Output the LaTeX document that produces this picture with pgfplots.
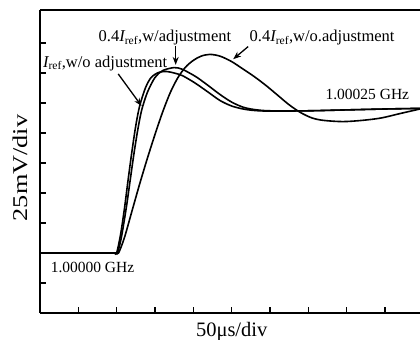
\documentclass[border=0pt]{standalone}
\usepackage{fontspec}
\setmainfont{Liberation Serif}
\usepackage{pgfplots}
\pgfplotsset{compat=1.18}
\usetikzlibrary{arrows.meta,calc}
\begin{document}
\begin{tikzpicture}
\begin{axis}[
  scale only axis, width=380pt, height=303pt,
  xmin=0, xmax=9.914, ymin=0, ymax=10.1,
  axis x line*=box, axis y line*=left,
  tick align=inside, xtick pos=left, ytick pos=left,
  xtick={1,2,3,4,5,6,7,8,9}, ytick={1,2,3,4,5,6,7,8,9},
  xticklabels={}, yticklabels={},
  major tick length=6pt,
  every tick/.style={black, line width=1.3pt},
  axis line style={line width=1.6pt},
]
% baseline
\addplot[black, line width=2pt] coordinates {(0,2) (2.05,2)};
% I_ref, w/o adjustment
\addplot[black, line width=1.6pt, smooth, tension=0.5] coordinates {
(1.95,2) (2.0,2) (2.1,2.6) (2.2,3.45) (2.3,4.45) (2.4,5.4) (2.5,6.25) (2.6,6.9) (2.75,7.5) (2.9,7.85) (3.1,8.02) (3.3,8.05) (3.5,8.0) (3.7,7.92) (3.9,7.78) (4.1,7.62) (4.4,7.35) (4.7,7.08) (5.0,6.9) (5.3,6.8) (5.6,6.75) (6.0,6.73) (7.0,6.74) (8.0,6.77) (9.0,6.8) (9.914,6.82)};
% 0.4 I_ref, w/ adjustment
\addplot[black, line width=1.6pt, smooth, tension=0.5] coordinates {
(1.97,2) (2.02,2) (2.12,2.5) (2.25,3.5) (2.35,4.4) (2.45,5.3) (2.55,6.1) (2.65,6.75) (2.8,7.35) (3.0,7.85) (3.2,8.08) (3.5,8.18) (3.7,8.13) (3.9,8.0) (4.1,7.85) (4.4,7.57) (4.7,7.28) (5.0,7.03) (5.3,6.86) (5.6,6.78) (6.0,6.74) (7.0,6.74) (8.0,6.77) (9.0,6.8) (9.914,6.82)};
% 0.4 I_ref, w/o adjustment
\addplot[black, line width=1.6pt, smooth, tension=0.5] coordinates {
(2.0,2) (2.05,2) (2.2,2.5) (2.4,3.4) (2.6,4.3) (2.8,5.15) (3.0,5.95) (3.2,6.7) (3.4,7.35) (3.6,7.85) (3.8,8.2) (4.0,8.42) (4.2,8.56) (4.43,8.62) (4.7,8.56) (5.0,8.38) (5.3,8.13) (5.6,7.87) (5.9,7.58) (6.2,7.26) (6.5,6.94) (6.8,6.68) (7.1,6.5) (7.4,6.42) (7.9,6.38) (8.4,6.42) (8.9,6.5) (9.4,6.65) (9.914,6.8)};

\node[font=\fontsize{16.5}{18}\selectfont] at (axis cs:3.26,9.17) {0.4{\itshape I}\textsubscript{ref},w/adjustment};
\node[font=\fontsize{16.5}{18}\selectfont] at (axis cs:7.36,9.17) {0.4{\itshape I}\textsubscript{ref},w/o.adjustment};
\node[font=\fontsize{16.5}{18}\selectfont] at (axis cs:1.70,8.33) {{\itshape I}\textsubscript{ref},w/o adjustment};
\node[font=\fontsize{15.5}{18}\selectfont] at (axis cs:8.54,7.27) {1.00025 GHz};
\node[font=\fontsize{15.5}{18}\selectfont] at (axis cs:1.37,1.53) {1.00000 GHz};
\draw[line width=1.3pt, -{Stealth[length=8pt,width=6pt]}] (axis cs:3.54,8.89) -- (axis cs:3.54,8.27);
\draw[line width=1.3pt, -{Stealth[length=8pt,width=6pt]}] (axis cs:5.43,8.88) -- (axis cs:5.04,8.46);
\draw[line width=1.3pt, -{Stealth[length=8pt,width=6pt]}] (axis cs:2.04,7.97) -- (axis cs:2.65,6.9);
\end{axis}
\node[rotate=90, xscale=1.25, font=\fontsize{21}{22}\selectfont] at ($(current axis.south west)+(-20pt,145pt)$) {25mV/div};
\node[font=\fontsize{20.5}{22}\selectfont] at ($(current axis.south west)+(191.7pt,-18.7pt)$) {50μs/div};
\pgfresetboundingbox
\path[use as bounding box] ($(current axis.south west)+(-40pt,-27pt)$) rectangle ($(current axis.north east)+(0pt,10pt)$);
\end{tikzpicture}
\end{document}
